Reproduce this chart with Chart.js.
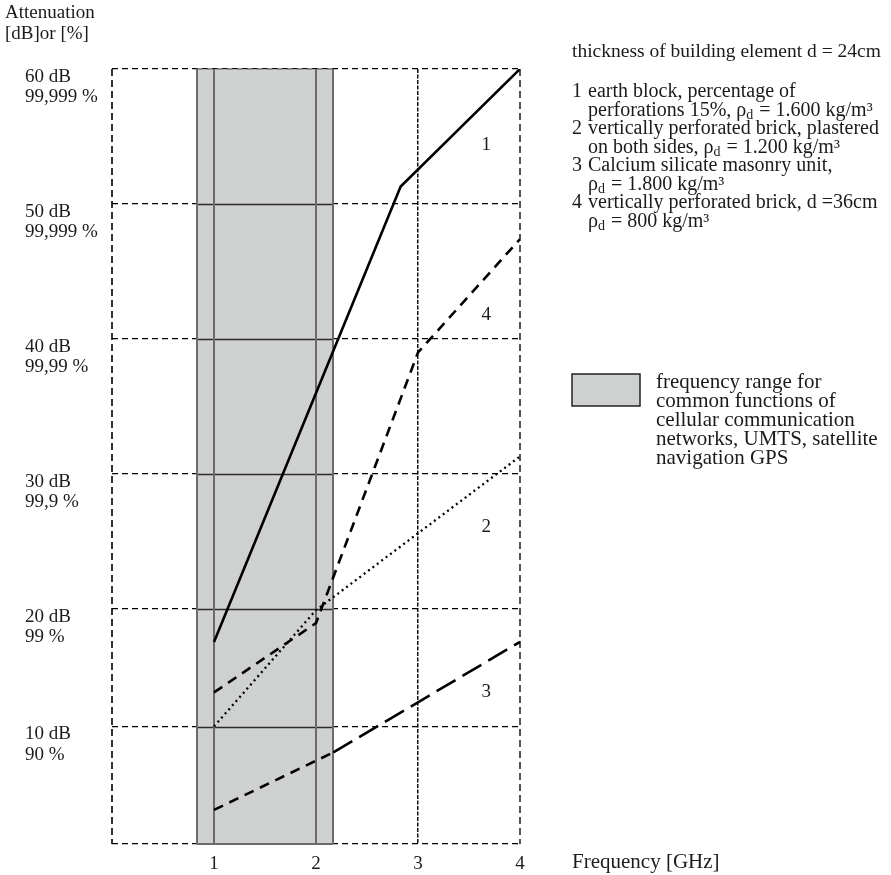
<!DOCTYPE html>
<html>
<head>
<meta charset="utf-8">
<script src="https://cdn.jsdelivr.net/npm/chart.js@4/dist/chart.umd.min.js"></script>
<style>
  html, body { margin: 0; padding: 0; background: #fff; }
  canvas { display: block; }
</style>
</head>
<body>
<canvas id="chart" width="891" height="875"></canvas>
<script>
// Attenuation (dB) of building elements vs. frequency (GHz)
const freqEarthBlock   = [1, 2.83, 4];
const attEarthBlock    = [17.2, 51.3, 60];          // 1
const freqPlastered    = [1, 2, 4];
const attPlastered     = [10.0, 19.9, 31.3];        // 2
const freqCalcium      = [1, 2.17, 4];
const attCalcium       = [2.9, 7.8, 17.2];          // 3
const freqPerforated36 = [1, 2, 3, 4];
const attPerforated36  = [12.9, 18.8, 39.0, 47.4];  // 4

// curve numbers, placed at (GHz, dB)
const curveNames  = ['1', '2', '3', '4'];
const curveLabelX = [3.67, 3.67, 3.67, 3.67];
const curveLabelY = [54.4, 26.1, 12.9, 41.8];

// shaded frequency range (GHz)
const bandStart = 0.83;
const bandEnd   = 2.17;

// y-axis tick labels (dB / shielding percentage)
const yTickValues = [10, 20, 30, 40, 50, 60];
const yTickDb     = ['10 dB', '20 dB', '30 dB', '40 dB', '50 dB', '60 dB'];
const yTickPct    = ['90 %', '99 %', '99,9 %', '99,99 %', '99,999 %', '99,999 %'];

const xTickValues = [1, 2, 3, 4];

const legendTitle = 'thickness of building element d = 24cm';
const legendItems = [
  ['1', ['earth block, percentage of'], ['perforations 15%, ', {rho: true}, ' = 1.600 kg/m³']],
  ['2', ['vertically perforated brick, plastered'], ['on both sides, ', {rho: true}, ' = 1.200 kg/m³']],
  ['3', ['Calcium silicate masonry unit,'], [{rho: true}, ' = 1.800 kg/m³']],
  ['4', ['vertically perforated brick, d =36cm'], [{rho: true}, ' = 800 kg/m³']]
];
const bandNote = ['frequency range for', 'common functions of', 'cellular communication',
                  'networks, UMTS, satellite', 'navigation GPS'];

// The dB axis is not evenly spaced: the 0–20 dB part is compressed
// relative to 20–60 dB. Relative heights of each 10 dB step:
const yKnots   = [0, 10, 20, 30, 40, 50, 60];
const yWeights = [117.5, 117.5, 135, 135, 135, 135];

class SegmentedScale extends Chart.LinearScale {
  static id = 'segmented';
  _toDecimal(value) {
    const total = yWeights.reduce((a, b) => a + b, 0);
    let acc = 0;
    for (let i = 0; i < yWeights.length; i++) {
      const a = yKnots[i], b = yKnots[i + 1];
      if (value <= b || i === yWeights.length - 1) {
        return (acc + (value - a) / (b - a) * yWeights[i]) / total;
      }
      acc += yWeights[i];
    }
    return 1;
  }
  _fromDecimal(dec) {
    const total = yWeights.reduce((a, b) => a + b, 0);
    let pos = dec * total, acc = 0;
    for (let i = 0; i < yWeights.length; i++) {
      if (pos <= acc + yWeights[i] || i === yWeights.length - 1) {
        return yKnots[i] + (pos - acc) / yWeights[i] * (yKnots[i + 1] - yKnots[i]);
      }
      acc += yWeights[i];
    }
    return yKnots[yKnots.length - 1];
  }
  getPixelForValue(value) {
    if (value === null || value === undefined || isNaN(value)) return NaN;
    return this.getPixelForDecimal(this._toDecimal(value));
  }
  getValueForPixel(pixel) {
    return this._fromDecimal(this.getDecimalForPixel(pixel));
  }
}
Chart.register(SegmentedScale);

const SERIF = '"Liberation Serif", "Times New Roman", serif';
const FS = 19;      // axis text
const FS_KEY = 20;  // legend text
const FS_NOTE = 21; // band note
const INK = '#1b1b1b';

function pts(xs, ys) { return xs.map((x, i) => ({x, y: ys[i]})); }

function drawRich(ctx, x, y, parts, size) {
  let cx = x;
  for (const p of parts) {
    if (typeof p === 'string') {
      ctx.font = `${size}px ${SERIF}`;
      ctx.fillText(p, cx, y);
      cx += ctx.measureText(p).width;
    } else if (p.rho) {
      ctx.font = `${size}px ${SERIF}`;
      ctx.fillText('ρ', cx, y);
      cx += ctx.measureText('ρ').width;
      ctx.font = `${Math.round(size * 0.72)}px ${SERIF}`;
      ctx.fillText('d', cx, y + 5);
      cx += ctx.measureText('d').width + 1;
    }
  }
}

const bandPlugin = {
  id: 'bandPlugin',
  beforeDatasetsDraw(chart) {
    const {ctx, chartArea: ca, scales: {x, y}} = chart;
    const x0 = x.getPixelForValue(bandStart);
    const x1 = x.getPixelForValue(bandEnd);
    ctx.save();
    ctx.fillStyle = '#cfd1d1';
    ctx.fillRect(x0, ca.top + 1, x1 - x0, ca.bottom - ca.top - 1);
    // grid lines run solid through the band
    ctx.strokeStyle = '#2a2a2a';
    ctx.lineWidth = 1.5;
    for (const v of yTickValues.slice(0, -1)) {
      const py = Math.round(y.getPixelForValue(v)) + 0.5;
      ctx.beginPath(); ctx.moveTo(x0, py); ctx.lineTo(x1, py); ctx.stroke();
    }
    ctx.strokeStyle = '#6b6b6b';
    ctx.lineWidth = 2;
    for (const v of [bandStart, 1, 2, bandEnd]) {
      const px = Math.round(x.getPixelForValue(v));
      ctx.beginPath(); ctx.moveTo(px, ca.top); ctx.lineTo(px, ca.bottom); ctx.stroke();
    }
    ctx.beginPath(); ctx.moveTo(x0, ca.bottom); ctx.lineTo(x1, ca.bottom); ctx.stroke();
    ctx.setLineDash([6, 4]);
    ctx.lineWidth = 1.3;
    ctx.beginPath(); ctx.moveTo(x0, ca.top); ctx.lineTo(x1, ca.top); ctx.stroke();
    ctx.restore();
  }
};

const textPlugin = {
  id: 'textPlugin',
  afterDraw(chart) {
    const {ctx, scales: {x, y}} = chart;
    ctx.save();
    ctx.fillStyle = INK;
    ctx.textBaseline = 'middle';
    ctx.textAlign = 'left';
    ctx.font = `${FS}px ${SERIF}`;

    // y-axis heading
    ctx.fillText('Attenuation', 5, 13);
    ctx.fillText('[dB]or [%]', 5, 34);

    // x-axis title
    ctx.font = `${FS_NOTE}px ${SERIF}`;
    ctx.fillText('Frequency [GHz]', 572, x.bottom - 13);

    // curve numbers
    ctx.font = `${FS}px ${SERIF}`;
    ctx.textAlign = 'center';
    curveNames.forEach((n, i) => {
      ctx.fillText(n, x.getPixelForValue(curveLabelX[i]), y.getPixelForValue(curveLabelY[i]));
    });

    // legend text
    ctx.textAlign = 'left';
    ctx.font = `${FS_KEY - 0.5}px ${SERIF}`;
    ctx.fillText(legendTitle, 572, 52);
    let ly = 92;
    const lh = 18.5;
    for (const [num, first, second] of legendItems) {
      ctx.font = `${FS_KEY}px ${SERIF}`;
      ctx.fillText(num, 572, ly);
      drawRich(ctx, 588, ly, first, FS_KEY);
      drawRich(ctx, 588, ly + lh, second, FS_KEY);
      ly += lh * 2;
    }

    // band key
    ctx.fillStyle = '#cfd1d1';
    ctx.fillRect(572, 374, 68, 32);
    ctx.strokeStyle = '#222';
    ctx.lineWidth = 1.5;
    ctx.strokeRect(572, 374, 68, 32);
    ctx.fillStyle = INK;
    ctx.font = `${FS_NOTE}px ${SERIF}`;
    bandNote.forEach((t, i) => ctx.fillText(t, 656, 382 + i * 19));
    ctx.restore();
  }
};

const lineBase = {
  borderColor: '#000',
  borderWidth: 2.6,
  pointRadius: 0,
  fill: false,
  tension: 0,
  borderCapStyle: 'butt'
};

new Chart(document.getElementById('chart'), {
  type: 'line',
  data: {
    datasets: [
      {...lineBase, label: '1', data: pts(freqEarthBlock, attEarthBlock)},
      {...lineBase, label: '2', data: pts(freqPlastered, attPlastered), borderWidth: 2.3, borderDash: [2, 3.5]},
      {...lineBase, label: '3', data: pts(freqCalcium, attCalcium),
        segment: { borderDash: c => c.p0DataIndex === 0 ? [10, 7] : [22, 8] }},
      {...lineBase, label: '4', data: pts(freqPerforated36, attPerforated36), borderDash: [10, 7]}
    ]
  },
  options: {
    responsive: false,
    animation: false,
    events: [],
    layout: { padding: { left: 25, top: 69, right: 371, bottom: 0 } },
    plugins: { legend: { display: false }, tooltip: { enabled: false }, title: { display: false } },
    scales: {
      x: {
        type: 'linear',
        min: 0, max: 4,
        afterFit(s) { s.height = 31; },
        afterBuildTicks(s) { s.ticks = [0, ...xTickValues].map(v => ({value: v})); },
        ticks: {
          padding: 9,
          color: INK,
          font: { family: SERIF, size: FS },
          maxRotation: 0,
          callback: v => xTickValues.includes(v) ? String(v) : ''
        },
        grid: {
          drawTicks: false,
          color: c => c.tick.value === 3 ? '#111' : (c.tick.value === 0 ? '#333' : '#555'),
          lineWidth: c => c.tick.value === 3 ? 1.5 : 2
        },
        border: {
          display: false,
          dash: c => c.tick.value === 3 ? [4, 1.5] : [7, 4]
        }
      },
      y: {
        type: 'segmented',
        min: 0, max: 60,
        afterFit(s) { s.width = 87; },
        afterBuildTicks(s) { s.ticks = [0, ...yTickValues].map(v => ({value: v})); },
        ticks: {
          crossAlign: 'far',
          labelOffset: 18,
          color: INK,
          font: { family: SERIF, size: FS, lineHeight: 1.1 },
          callback: v => {
            const i = yTickValues.indexOf(v);
            return i < 0 ? '' : [yTickDb[i], yTickPct[i]];
          }
        },
        grid: { drawTicks: false, color: '#000', lineWidth: 1.3 },
        border: { display: false, dash: [6, 4] }
      }
    }
  },
  plugins: [bandPlugin, textPlugin]
});
</script>
</body>
</html>
